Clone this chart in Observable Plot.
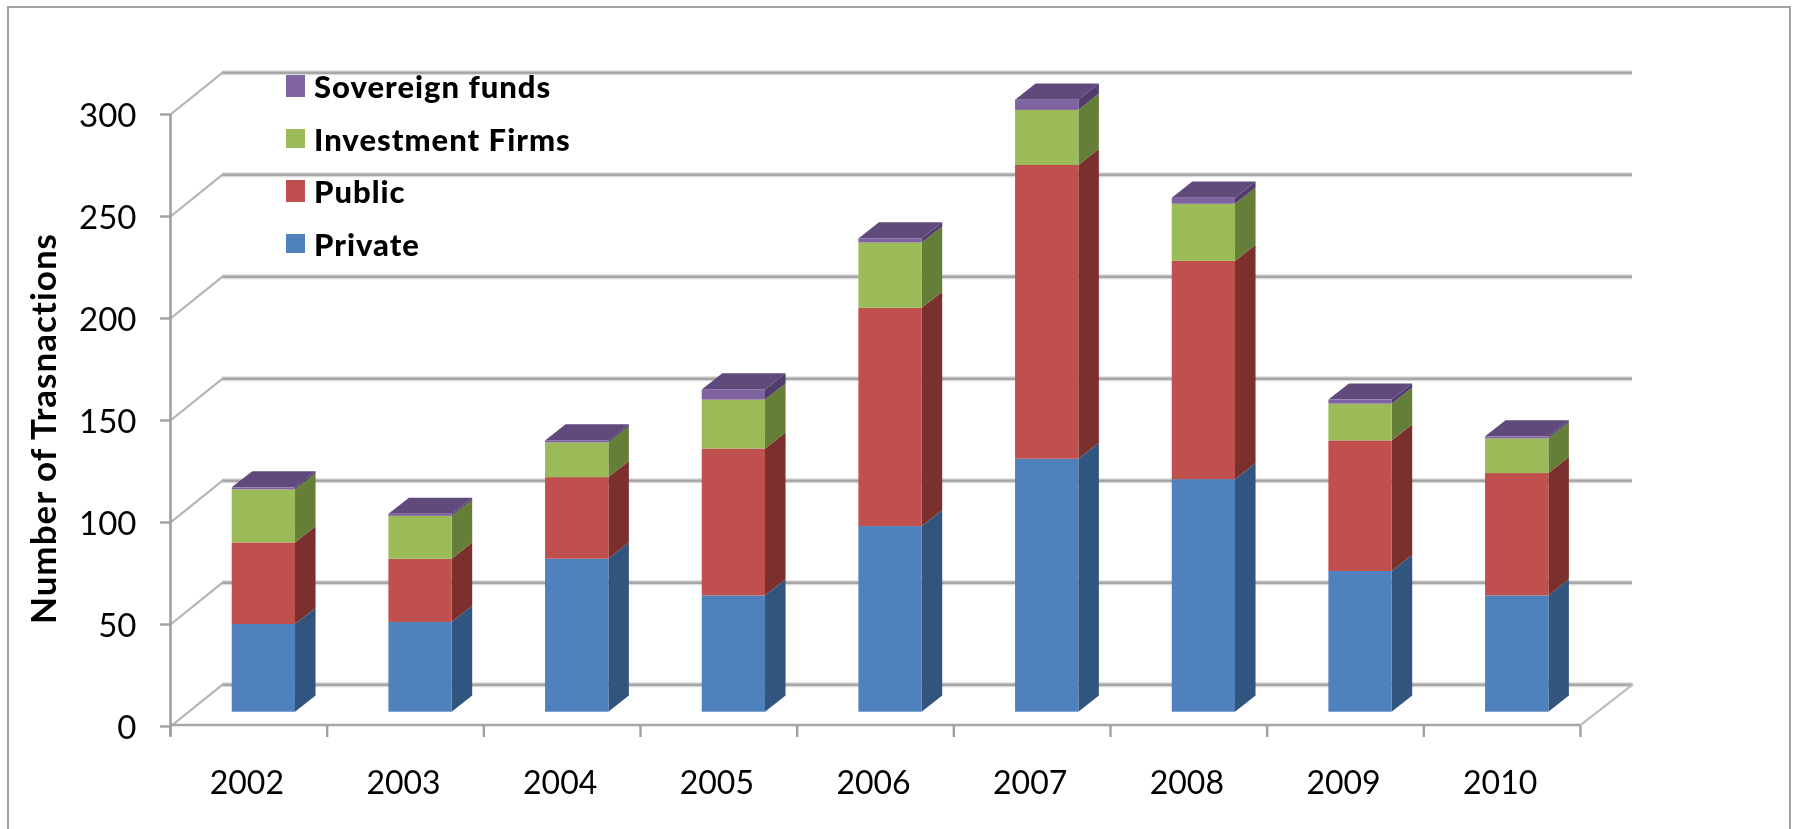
<!DOCTYPE html>
<html>
<head>
<meta charset="utf-8">
<script src="https://cdn.jsdelivr.net/npm/d3@7"></script>
<script src="https://cdn.jsdelivr.net/npm/@observablehq/plot@0.6"></script>
<style>
html,body{margin:0;padding:0;background:#fff;width:1796px;height:829px;overflow:hidden}
#wrap{position:relative;width:1796px;height:829px}
#frame{position:absolute;left:7px;top:6px;width:1780px;height:840px;border:2.5px solid #a3a3a3;box-sizing:content-box}
#chart{position:absolute;left:0;top:0}
#chart svg{filter:blur(.55px);background:transparent}
#legend{position:absolute;left:0;top:0;font-family:Lato,sans-serif;font-weight:900;font-size:31px;letter-spacing:1px;color:#000;filter:blur(.4px)}
#legend div{position:absolute;white-space:nowrap;line-height:30px}
#legend i{position:absolute;display:block}
.ytitle text{letter-spacing:1px}
</style>
</head>
<body>
<div id="wrap"><div id="frame"></div><div id="chart"></div><div id="legend"></div></div>
<script>
const years = ["2002","2003","2004","2005","2006","2007","2008","2009","2010"];
const privateDeals = [43, 44, 75, 57, 91, 124, 114, 69, 57];
const publicDeals = [40, 31, 40, 72, 107, 144, 107, 64, 60];
const investmentFirms = [26, 21, 17, 24, 32, 27, 28, 18, 17];
const sovereignFunds = [1, 1, 1, 5, 2, 5, 3, 2, 1];
const yTicks = [0, 50, 100, 150, 200, 250, 300];

const series = [
  {name: "Private", values: privateDeals, front: "#4f81bd", side: "#31557f", top: "#31557f"},
  {name: "Public", values: publicDeals, front: "#c0504d", side: "#7c302e", top: "#7c302e"},
  {name: "Investment Firms", values: investmentFirms, front: "#9bbb59", side: "#657f39", top: "#657f39"},
  {name: "Sovereign funds", values: sovereignFunds, front: "#8064a2", side: "#503d6b", top: "#604a7b"}
];

// Depth of the pseudo-3D box, in scale units
const wallX = 0.332, wallY = 20.5;   // back wall offset
const barX = 0.394, barW = 0.404;    // bar placement inside a category
const barDX = 0.131, barDY = 7.9;    // bar depth
const baseY = 7;                     // bars stand on the floor, in front of the back wall
const grid = "#a6a6a6", soft = "#dcdcdc";

const cum = years.map(() => 0);
const segs = [];
series.forEach(s => s.values.forEach((v, i) => {
  const y1 = cum[i] + baseY, y2 = y1 + v;
  cum[i] += v;
  segs.push({i, l: i + barX, r: i + barX + barW, y1, y2, s});
}));

const marks = [];
// soft halo + gridlines
for (const [stroke, w] of [[soft, 5], [grid, 2.6]]) {
  marks.push(Plot.ruleY(yTicks, {y: d => d + wallY, x1: wallX, x2: 9 + wallX, stroke, strokeWidth: w}));
}
// side wall diagonals
yTicks.forEach(t => marks.push(Plot.line([[0, t], [wallX, t + wallY]], {stroke: "#b4b4b4", strokeWidth: 2.2})));
// floor right diagonal + front line
marks.push(Plot.line([[9, 0.7], [9 + wallX, wallY]], {stroke: "#bdbdbd", strokeWidth: 2.2}));
marks.push(Plot.ruleY([0.7], {x1: 0, x2: 9, stroke: grid, strokeWidth: 2.6}));
marks.push(Plot.ruleX([0], {y1: -5, y2: 300, stroke: "#a0a0a0", strokeWidth: 2.6}));

// bar sides
for (const d of segs) {
  marks.push(Plot.areaY([{x: d.r, a: d.y1, b: d.y2}, {x: d.r + barDX, a: d.y1 + barDY, b: d.y2 + barDY}],
    {x: "x", y1: "a", y2: "b", fill: d.s.side}));
}
// top faces (only the top series)
for (const d of segs.filter(d => d.s.name === "Sovereign funds")) {
  marks.push(Plot.areaX([{y: d.y2, a: d.l, b: d.r}, {y: d.y2 + barDY, a: d.l + barDX, b: d.r + barDX}],
    {y: "y", x1: "a", x2: "b", fill: d.s.top}));
}
// front faces
for (const d of segs) {
  marks.push(Plot.rect([d], {x1: "l", x2: "r", y1: "y1", y2: "y2", fill: d.s.front}));
}
// axes
marks.push(Plot.axisY(yTicks, {tickSize: 10, stroke: "#a0a0a0", strokeWidth: 2.4, tickFormat: () => "", label: null}));
marks.push(Plot.axisY(yTicks, {tickSize: 0, tickPadding: 34, fontSize: 33, dy: 2, fontFamily: "Lato, sans-serif", fill: "#000", tickFormat: d => String(d), label: null}));
marks.push(Plot.axisX(d3.range(0, 10), {tickSize: 11, stroke: "#a0a0a0", strokeWidth: 2.4, tickFormat: () => "", label: null}));
marks.push(Plot.axisX(years.map((_, i) => i + 0.5), {tickSize: 0, tickPadding: 45, dx: -2, fontSize: 32, fontFamily: "Lato, sans-serif", fill: "#000", tickFormat: d => years[d - 0.5], label: null}));
// y axis title
marks.push(Plot.text(["Number of Trasnactions"], {className: "ytitle", frameAnchor: "left", dx: -126, dy: 8, rotate: -90, fontSize: 35, fontWeight: 700, fontFamily: "Lato, sans-serif", fill: "#000", textAnchor: "middle"}));

const chart = Plot.plot({
  width: 1796, height: 829,
  marginLeft: 170, marginRight: 216, marginTop: 114, marginBottom: 103,
  x: {type: "linear", domain: [0, 9], axis: null},
  y: {type: "linear", domain: [0, 300], axis: null},
  style: {background: "transparent", overflow: "visible"},
  marks
});
document.getElementById("chart").appendChild(chart);

// legend, reversed as in the original, overlaid on the plot
const legend = document.getElementById("legend");
const rows = [
  {s: series[3], top: 75, h: 22}, {s: series[2], top: 129, h: 19},
  {s: series[1], top: 180, h: 22}, {s: series[0], top: 234, h: 19}
];
for (const r of rows) {
  const sw = document.createElement("i");
  sw.style.cssText = `left:286px;top:${r.top}px;width:19px;height:${r.h}px;background:${r.s.front}`;
  legend.appendChild(sw);
  const t = document.createElement("div");
  t.textContent = r.s.name;
  t.style.cssText = `left:314px;top:${r.top + r.h / 2 - 15}px`;
  legend.appendChild(t);
}
</script>
</body>
</html>
